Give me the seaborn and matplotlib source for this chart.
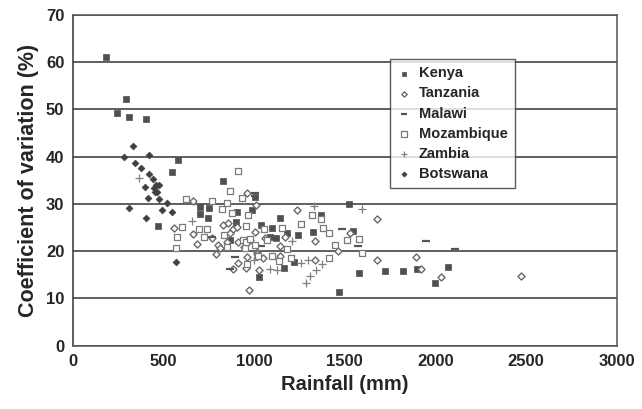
import numpy as np
import pandas as pd
import seaborn as sns
import matplotlib.pyplot as plt

# values (rainfall mm, CV %)
kenya_rain = [185, 246, 292, 309, 404, 469, 549, 579, 700, 704, 748, 750, 827, 866, 901, 908,
              989, 1004, 1028, 1040, 1090, 1099, 1123, 1141, 1165, 1184, 1222, 1243, 1323,
              1368, 1469, 1522, 1546, 1579, 1724, 1824, 1901, 2000, 2070]
kenya_cv = [61.1, 49.3, 52.2, 48.4, 47.9, 25.4, 36.7, 39.3, 27.8, 29.3, 27.1, 29.1, 34.8, 22.4,
            26.1, 28.2, 28.6, 31.5, 14.5, 25.6, 23.0, 24.8, 22.8, 27.1, 16.4, 23.8, 17.6, 23.5,
            24.0, 27.6, 11.3, 30.0, 24.3, 15.4, 15.7, 15.9, 16.2, 13.3, 16.6]

tanzania_rain = [559, 665, 665, 684, 771, 790, 800, 812, 827, 853, 859, 868, 882, 886, 905, 910,
                 913, 947, 956, 960, 963, 971, 978, 1006, 1011, 1015, 1018, 1029, 1048, 1061,
                 1143, 1143, 1171, 1235, 1337, 1337, 1465, 1531, 1676, 1680, 1895, 1920, 2030, 2472]
tanzania_cv = [24.8, 30.7, 23.6, 21.6, 22.8, 19.4, 21.3, 20.6, 25.5, 22.0, 25.9, 23.8, 16.2, 24.6,
               25.0, 17.5, 22.0, 20.8, 16.4, 32.2, 18.8, 11.8, 22.3, 24.1, 29.7, 19.9, 19.4, 16.0,
               18.5, 22.7, 21.1, 19.0, 23.0, 28.6, 22.1, 18.1, 20.1, 23.9, 26.8, 18.1, 18.8, 16.2,
               14.6, 14.8]

malawi_rain = [767, 868, 895, 1004, 1004, 1038, 1485, 1576, 1951, 2109]
malawi_cv = [22.9, 16.2, 18.8, 32.3, 31.7, 21.0, 24.6, 21.1, 22.2, 20.4]

mozambique_rain = [568, 573, 604, 623, 698, 724, 742, 767, 822, 835, 850, 850, 866, 876, 912, 934,
                   941, 950, 955, 957, 962, 965, 980, 1004, 1020, 1057, 1070, 1100, 1140, 1153,
                   1180, 1205, 1261, 1322, 1370, 1378, 1414, 1415, 1446, 1510, 1577, 1594]
mozambique_cv = [20.6, 23.0, 25.0, 31.0, 24.7, 23.0, 24.6, 30.7, 28.9, 23.4, 30.1, 20.8, 32.8,
                 28.1, 36.9, 31.2, 22.3, 20.6, 25.4, 21.9, 17.2, 27.6, 22.5, 21.4, 19.0, 24.6,
                 22.3, 19.0, 18.0, 24.9, 20.5, 18.6, 25.8, 27.6, 26.8, 24.8, 23.9, 18.6, 21.3,
                 22.3, 22.5, 19.7]

zambia_rain = [366, 660, 1000, 1090, 1124, 1208, 1259, 1286, 1295, 1309, 1332, 1344, 1376, 1594]
zambia_cv = [35.5, 26.3, 18.1, 16.2, 16.0, 22.2, 17.4, 13.2, 18.1, 14.7, 29.6, 16.0, 17.3, 29.0]

botswana_rain = [285, 310, 333, 342, 375, 401, 404, 417, 419, 421, 441, 448, 456, 458, 467, 476,
                 478, 494, 518, 549, 570]
botswana_cv = [40.0, 29.2, 42.2, 38.7, 37.5, 33.6, 27.1, 31.3, 36.3, 40.3, 35.2, 33.3, 32.4, 34.0,
               32.6, 34.0, 31.0, 28.7, 30.1, 28.3, 17.6]

countries = ["Kenya", "Tanzania", "Malawi", "Mozambique", "Zambia", "Botswana"]
series = {
    "Kenya": (kenya_rain, kenya_cv),
    "Tanzania": (tanzania_rain, tanzania_cv),
    "Malawi": (malawi_rain, malawi_cv),
    "Mozambique": (mozambique_rain, mozambique_cv),
    "Zambia": (zambia_rain, zambia_cv),
    "Botswana": (botswana_rain, botswana_cv),
}
df = pd.concat([pd.DataFrame({"rain": r, "cv": c, "country": k}) for k, (r, c) in series.items()])

# marker styles
styles = {
    "Kenya": dict(marker="s", s=20, color="#505050", edgecolor="#505050", linewidth=0.5),
    "Tanzania": dict(marker="D", s=13, facecolor="white", edgecolor="#6a6a6a", linewidth=1.0),
    "Malawi": dict(marker="_", s=30, color="#555555", linewidth=1.6),
    "Mozambique": dict(marker="s", s=24, facecolor="white", edgecolor="#7a7a7a", linewidth=0.9),
    "Zambia": dict(marker="+", s=30, color="#808080", linewidth=0.9),
    "Botswana": dict(marker="D", s=12, color="#404040", edgecolor="#404040", linewidth=0.5),
}

sns.set_style("white")
plt.rcParams["font.family"] = ["Liberation Sans", "DejaVu Sans"]

fig, ax = plt.subplots(figsize=(6.42, 4.09), dpi=100)
fig.subplots_adjust(left=0.1132, right=0.9606, top=0.964, bottom=0.1548)

for k in countries:
    sub = df[df["country"] == k]
    sns.scatterplot(data=sub, x="rain", y="cv", ax=ax, label=k, zorder=3, **styles[k])

ax.set_xlim(0, 3000)
ax.set_ylim(0, 70)
ax.set_xticks(np.arange(0, 3001, 500))
ax.set_yticks(np.arange(0, 71, 10))
ax.yaxis.grid(True, color="#444444", linewidth=1.2)
ax.set_axisbelow(True)

for side in ["left", "bottom", "right", "top"]:
    ax.spines[side].set_color("#555555")
    ax.spines[side].set_linewidth(1.1)
ax.spines["left"].set_color("#333333")

ax.tick_params(axis="both", which="major", direction="out", length=4, width=1,
               color="#555555", labelsize=12, pad=2)
for lab in ax.get_xticklabels() + ax.get_yticklabels():
    lab.set_fontweight("bold")

ax.set_xlabel("Rainfall (mm)", fontsize=14.5, fontweight="bold", labelpad=4)
ax.set_ylabel("Coefficient of variation (%)", fontsize=15.5, fontweight="bold", labelpad=5)

leg = ax.legend(loc="upper left", bbox_to_anchor=(0.583, 0.866), frameon=True, fancybox=False,
                prop={"weight": "bold", "size": 10.5}, handlelength=1.0, handletextpad=0.5,
                labelspacing=0.42, borderpad=0.5, markerscale=0.75, borderaxespad=0)
leg.get_frame().set_edgecolor("#333333")
leg.get_frame().set_linewidth(1.0)

fig.savefig("out.png", dpi=100)
